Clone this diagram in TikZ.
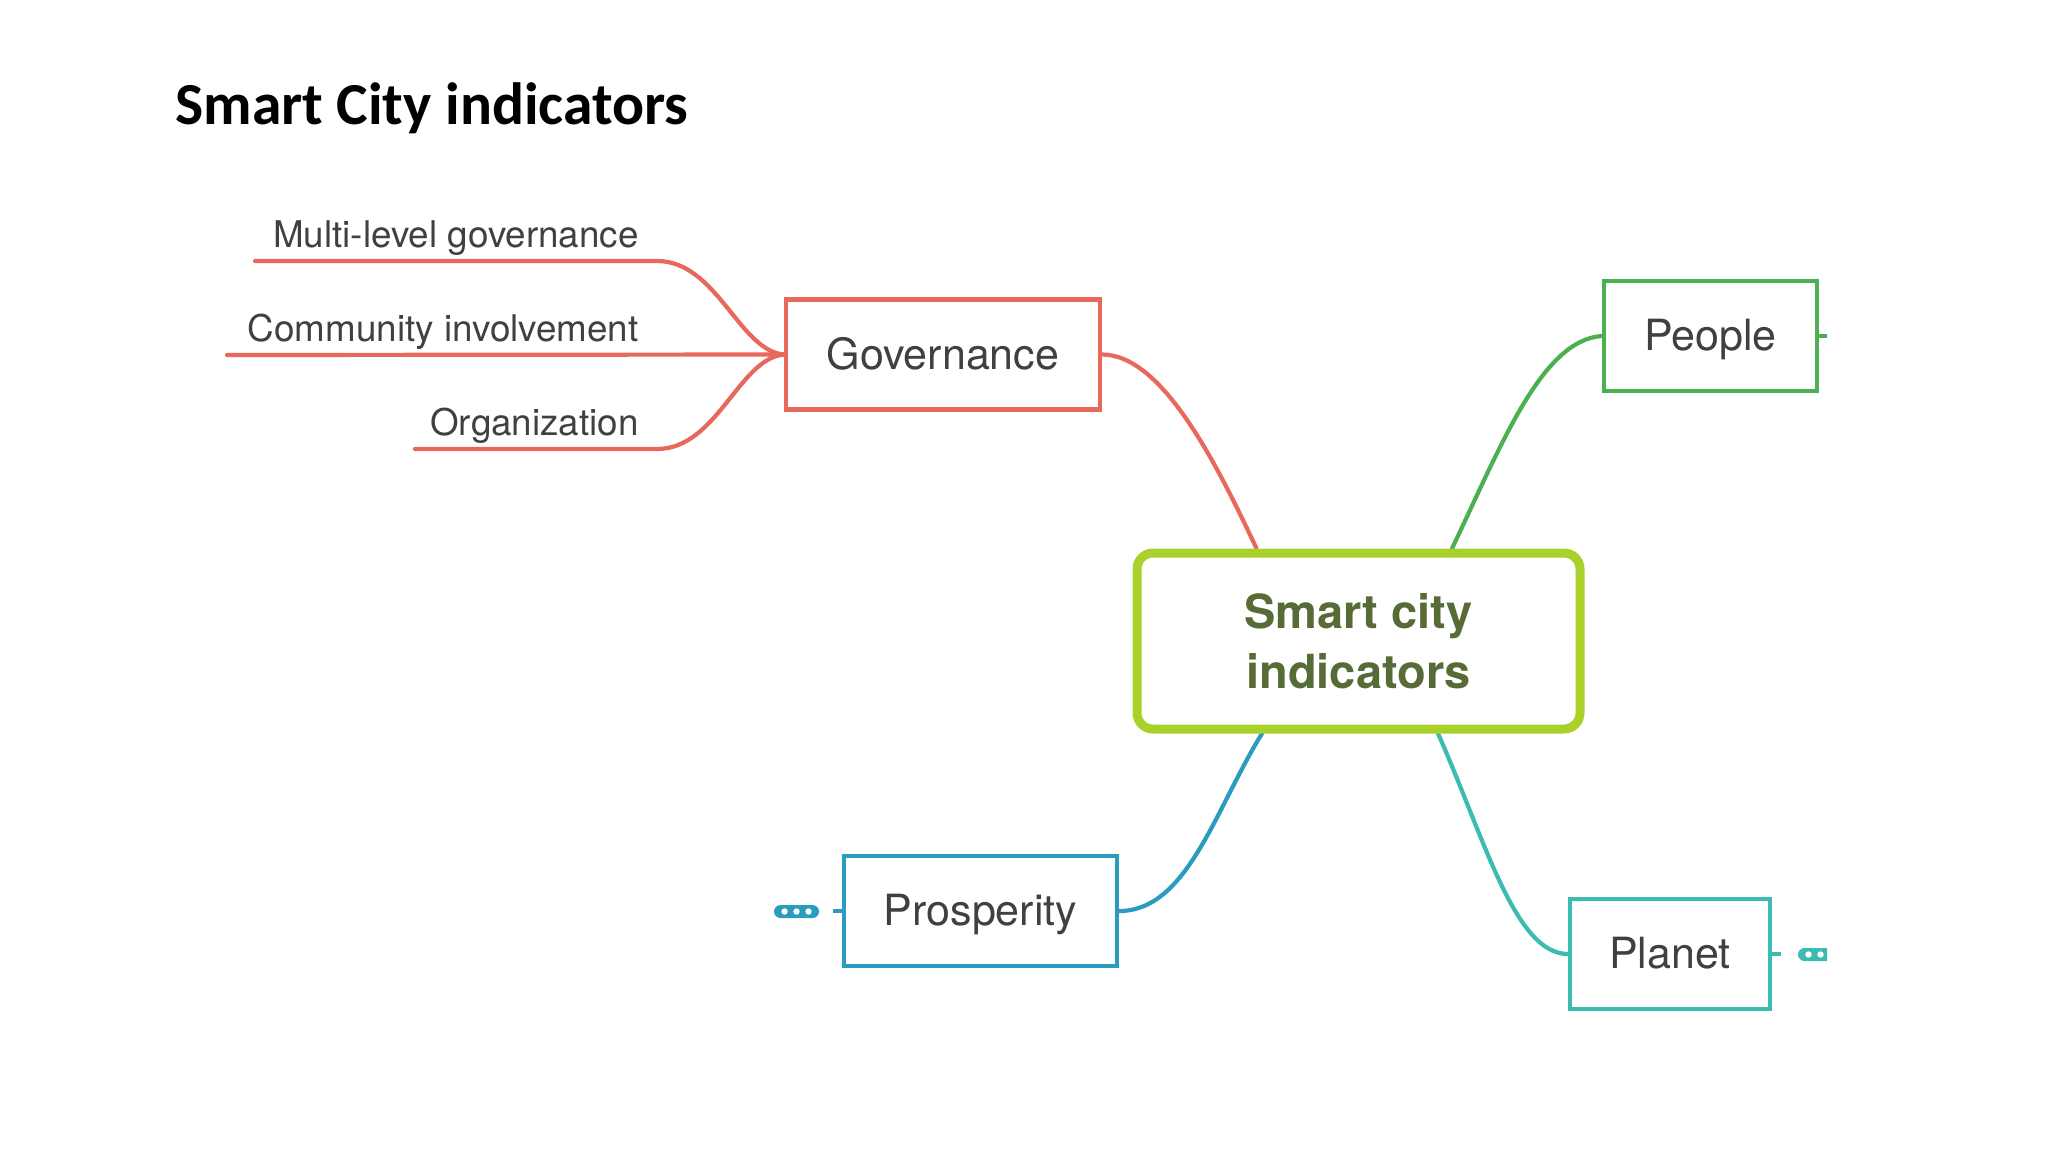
\documentclass[tikz,border=0pt]{standalone}
\usepackage{fontspec}
\newfontfamily\heros{TeX Gyre Heros}
\newfontfamily\carlito{Carlito}
\usetikzlibrary{calc,backgrounds}
\definecolor{cred}{HTML}{E8685C}
\definecolor{cgreen}{HTML}{4CB050}
\definecolor{cblue}{HTML}{2B9CC0}
\definecolor{cteal}{HTML}{3ABCB2}
\definecolor{clime}{HTML}{A9D12A}
\definecolor{colive}{HTML}{566B36}
\definecolor{textgray}{HTML}{404040}
\tikzset{
  box/.style={draw, line width=2.1pt, fill=white, inner sep=0pt, minimum height=55pt,
    font=\heros\fontsize{21.5}{26}\selectfont, text=textgray, text height=1.55em, text depth=0.06em},
  link/.style={line width=2.1pt, line cap=round},
  stub/.style={line width=2.1pt},
  lbl/.style={anchor=base east, inner sep=0pt, font=\heros\fontsize{18.4}{22}\selectfont, text=textgray},
  pill/.style={inner sep=0pt, minimum width=22.5pt, minimum height=6.5pt, rounded corners=3.25pt}
}
\begin{document}
\begin{tikzpicture}[x=0.5pt,y=-0.5pt]
\useasboundingbox (0,0) rectangle (2048,1152);

\node[anchor=base west, inner sep=0pt, font=\carlito\bfseries\fontsize{29.8}{36}\selectfont] (title) at (175,124) {Smart City indicators};

\node[box, draw=cred, minimum width=157pt] (gov) at (943,354.5) {Governance};
\node[box, draw=cgreen, minimum width=106.5pt] (people) at (1710.5,336) {People};
\node[box, draw=cblue, minimum width=136.5pt] (pros) at (980.5,911) {Prosperity};
\node[box, draw=cteal, minimum width=100pt] (planet) at (1670,954) {Planet};
\node[draw=clime, line width=4.5pt, rounded corners=8pt, fill=white, inner sep=0pt,
  minimum width=221.5pt, minimum height=88pt, align=center,
  font=\heros\bfseries\fontsize{23.5}{30}\selectfont, text=colive] (hub) at (1358.5,641) {Smart city\\indicators};

\node[lbl] (mlg) at (639,247) {Multi-level governance};
\node[lbl] (ci) at (639,341) {Community involvement};
\node[lbl] (org) at (639,435) {Organization};

\coordinate (mlgS) at (255,261);
\coordinate (mlgE) at (657,261);
\coordinate (ciS) at (227,355);
\coordinate (orgS) at (415,449);
\coordinate (orgE) at (657,449);

\begin{pgfonlayer}{background}
\draw[link, cred] (mlgS) -- (mlgE) .. controls +(60,0) and +(-45,-4) .. (gov.west);
\draw[link, cred] (ciS) -- (gov.west);
\draw[link, cred] (orgS) -- (orgE) .. controls +(60,0) and +(-45,4) .. (gov.west);
\draw[link, cred] (gov.east) .. controls +(60,0) and +(-40,-85) .. ($(hub.north)+(-102,0)$);
\draw[link, cgreen] ($(hub.north)+(93.5,0)$) .. controls +(50,-105) and +(-60,4) .. (people.west);
\draw[link, cblue] (pros.east) .. controls +(68,0) and +(-47,76) .. ($(hub.south)+(-96.5,0)$);
\draw[link, cteal] ($(hub.south)+(79.5,0)$) .. controls +(47,106) and +(-53,0) .. (planet.west);
\end{pgfonlayer}

\coordinate (pstub) at (1827,336);
\draw[stub, cgreen] (people.east) -- (pstub);

\coordinate (prstub) at (833,911);
\draw[stub, cblue] (prstub) -- (pros.west);
\node[pill, fill=cblue] (prpill) at (796.5,911.5) {};
\fill[white] (prpill.center) circle (1.6pt);
\fill[white] ($(prpill.center)+(-12,0)$) circle (1.6pt);
\fill[white] ($(prpill.center)+(12,0)$) circle (1.6pt);

\coordinate (plstub) at (1781,954);
\draw[stub, cteal] (planet.east) -- (plstub);
\begin{scope}
\clip (1790,930) rectangle (1827,980);
\node[pill, fill=cteal] (plpill) at (1820.5,954.5) {};
\fill[white] ($(plpill.center)+(-12,0)$) circle (1.6pt);
\fill[white] (plpill.center) circle (1.6pt);
\end{scope}
\end{tikzpicture}
\end{document}
